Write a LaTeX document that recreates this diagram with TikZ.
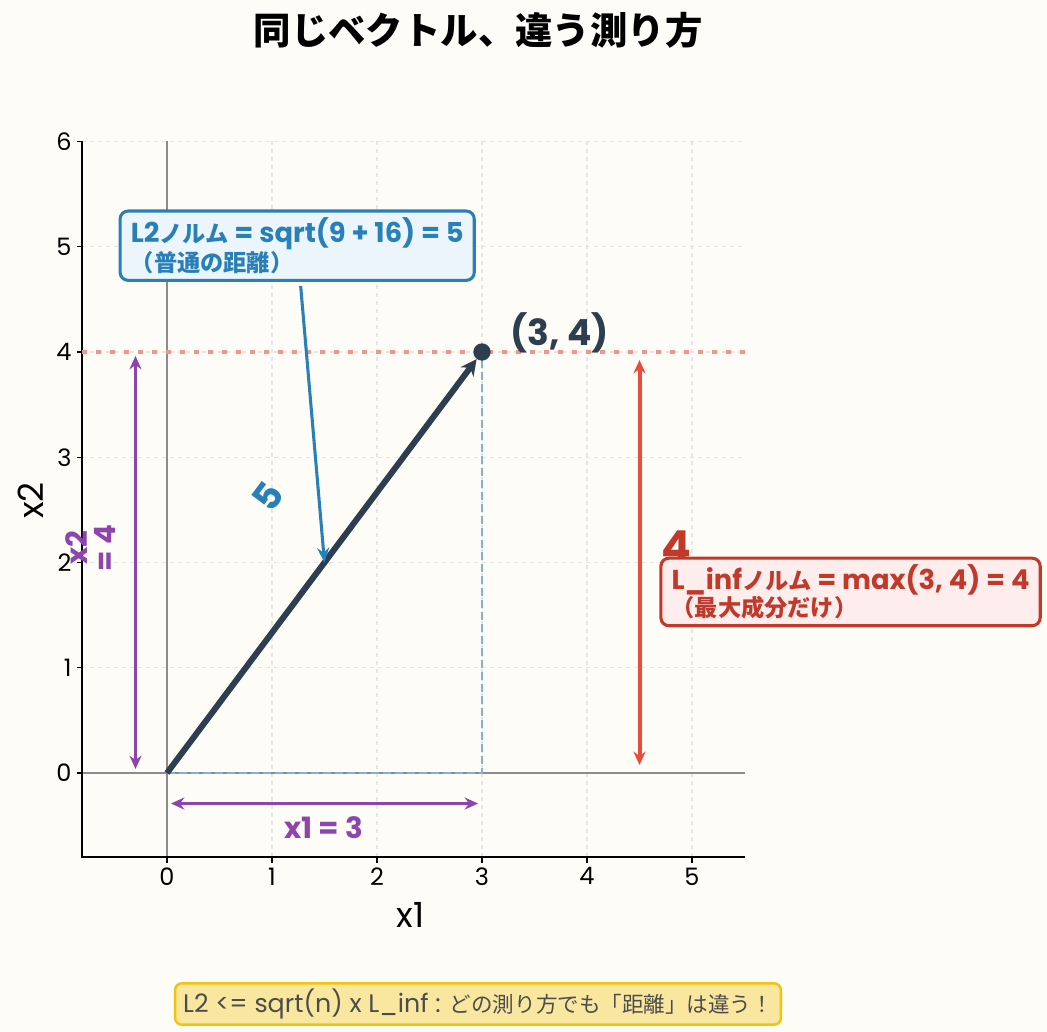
\documentclass[tikz,border=0pt]{standalone}
\usepackage{fontspec}
\setmainfont{Poppins}
\newfontfamily\jpfont{Noto Sans CJK JP}[Scale=0.85]
\newcommand{\jtxt}[1]{{\jpfont #1}}
\usetikzlibrary{arrows.meta}

\definecolor{bgcream}{HTML}{FEFCF7}
\definecolor{navy}{HTML}{2C3E50}
\definecolor{l2blue}{HTML}{2980B9}
\definecolor{bluefill}{HTML}{EBF5FB}
\definecolor{linfred}{HTML}{C0392B}
\definecolor{arrowred}{HTML}{E74C3C}
\definecolor{pinkfill}{HTML}{FDEDEC}
\definecolor{purp}{HTML}{8E44AD}
\definecolor{dotred}{HTML}{F1948A}
\definecolor{guideblue}{HTML}{7FB3D5}
\definecolor{notefill}{HTML}{F9E79F}
\definecolor{gold}{HTML}{F1C40F}

\tikzset{
  gridline/.style={black!10, dashed, line width=0.8pt},
  zeroline/.style={black!45, line width=1.1pt},
  dimarrow/.style={{Stealth[length=10pt,width=9pt]}-{Stealth[length=10pt,width=9pt]}, line width=2.5pt, shorten >=3pt, shorten <=3pt},
  notebox/.style={rounded corners=6pt, line width=2.3pt, align=left, inner xsep=8pt, inner ysep=5pt, font=\bfseries\fontsize{20.5}{20}\selectfont},
  ticklab/.style={font=\fontsize{18}{20}\selectfont},
}

\begin{document}
\begin{tikzpicture}[x=0.75pt, y=-0.75pt]
\fill[bgcream] (0,0) rectangle (1047,1032);
\useasboundingbox (0,0) rectangle (1047,1032);

\node[font=\jpfont\bfseries\fontsize{33}{38}\selectfont] (title) at (478,30) {同じベクトル、違う測り方};

\begin{scope}[shift={(167,773)}, x=78.75pt, y=78.94pt]
% grid and axes
\foreach \i in {0,...,5} \draw[gridline] (\i,-0.8) -- (\i,6);
\foreach \j in {0,...,6} \draw[gridline] (-0.81,\j) -- (5.5,\j);
\draw[zeroline] (0,-0.8) -- (0,6);
\draw[zeroline] (-0.81,0) -- (5.5,0);
\draw[line width=1.1pt] (-0.81,6) -- (-0.81,-0.8) -- (5.5,-0.8);
\foreach \i in {0,...,5}
  \draw[line width=1pt] (\i,-0.8) -- ++(0,-4pt) node[below, ticklab] (xt\i) {\i};
\foreach \j in {0,...,6}
  \draw[line width=1pt] (-0.81,\j) -- ++(-4pt,0) node[left, ticklab] (yt\j) {\j};
\node[font=\fontsize{26}{30}\selectfont] (xlab) at (2.32,-1.35) {x1};
\node[rotate=90, font=\fontsize{26}{30}\selectfont] (ylab) at (-1.30,2.59) {x2};

% guides
\coordinate (O) at (0,0);
\coordinate (A) at (3,0);
\draw[dotred, line width=3pt, dash pattern=on 3.5pt off 7pt] (-0.81,4) -- (5.5,4);
\draw[guideblue, line width=2pt, dash pattern=on 6pt off 3pt] (O) -- (A) -- (3,3.93);

% the vector
\node[circle, fill=navy, inner sep=0pt, minimum size=13pt] (pt) at (3,4) {};
\draw[navy, line width=4.5pt, -{Stealth[length=12pt,width=12pt]}] (O) -- (pt);
\node[text=navy, font=\bfseries\fontsize{27}{30}\selectfont] (ptlab) at (3.74,4.18) {(3, 4)};

% x1 and x2 parts
\coordinate (x2lo) at (-0.3,0);
\coordinate (x2hi) at (-0.3,4);
\draw[dimarrow, purp] (x2lo) -- (x2hi);
\node[rotate=90, text=purp, align=center, font=\bfseries\fontsize{22}{21}\selectfont] (x2lab) at (-0.73,2.14) {x2\\= 4};
\coordinate (x1lo) at (0,-0.29);
\coordinate (x1hi) at (3,-0.29);
\draw[dimarrow, purp] (x1lo) -- (x1hi);
\node[text=purp, font=\bfseries\fontsize{22}{26}\selectfont] (x1lab) at (1.49,-0.52) {x1 = 3};

% L_inf
\coordinate (inflo) at (4.5,0);
\coordinate (infhi) at (4.5,4);
\draw[dimarrow, arrowred, line width=3pt, shorten >=6pt, shorten <=6pt] (inflo) -- (infhi);
\node[text=linfred, font=\bfseries\fontsize{33}{36}\selectfont] (four) at (4.85,2.15) {4};
\node[notebox, draw=linfred, fill=pinkfill, text=linfred] (linfbox) at (6.51,1.72)
  {L\_inf\jtxt{ノルム} = max(3, 4) = 4\\\jtxt{（最大成分だけ）}};

% L2
\node[rotate=53.13, text=l2blue, font=\bfseries\fontsize{28}{30}\selectfont] (five) at (0.96,2.63) {5};
\node[notebox, draw=l2blue, fill=bluefill, text=l2blue] (l2box) at (1.24,5.01)
  {L2\jtxt{ノルム} = sqrt(9 + 16) = 5\\\jtxt{（普通の距離）}};
\coordinate (mid) at (1.5,2);
\draw[l2blue, line width=2.3pt, shorten <=3pt, -{Stealth[length=11pt,width=9pt]}] (l2box) -- (mid);
\end{scope}

\node[fill=notefill, draw=gold, rounded corners=5pt, line width=1.8pt, text=black!70,
  font=\fontsize{19}{22}\selectfont, inner xsep=6pt, minimum height=31pt] (footer) at (478,1004)
  {L2 <= sqrt(n) x L\_inf : \jtxt{どの測り方でも「距離」は違う！}};
\end{tikzpicture}
\end{document}
